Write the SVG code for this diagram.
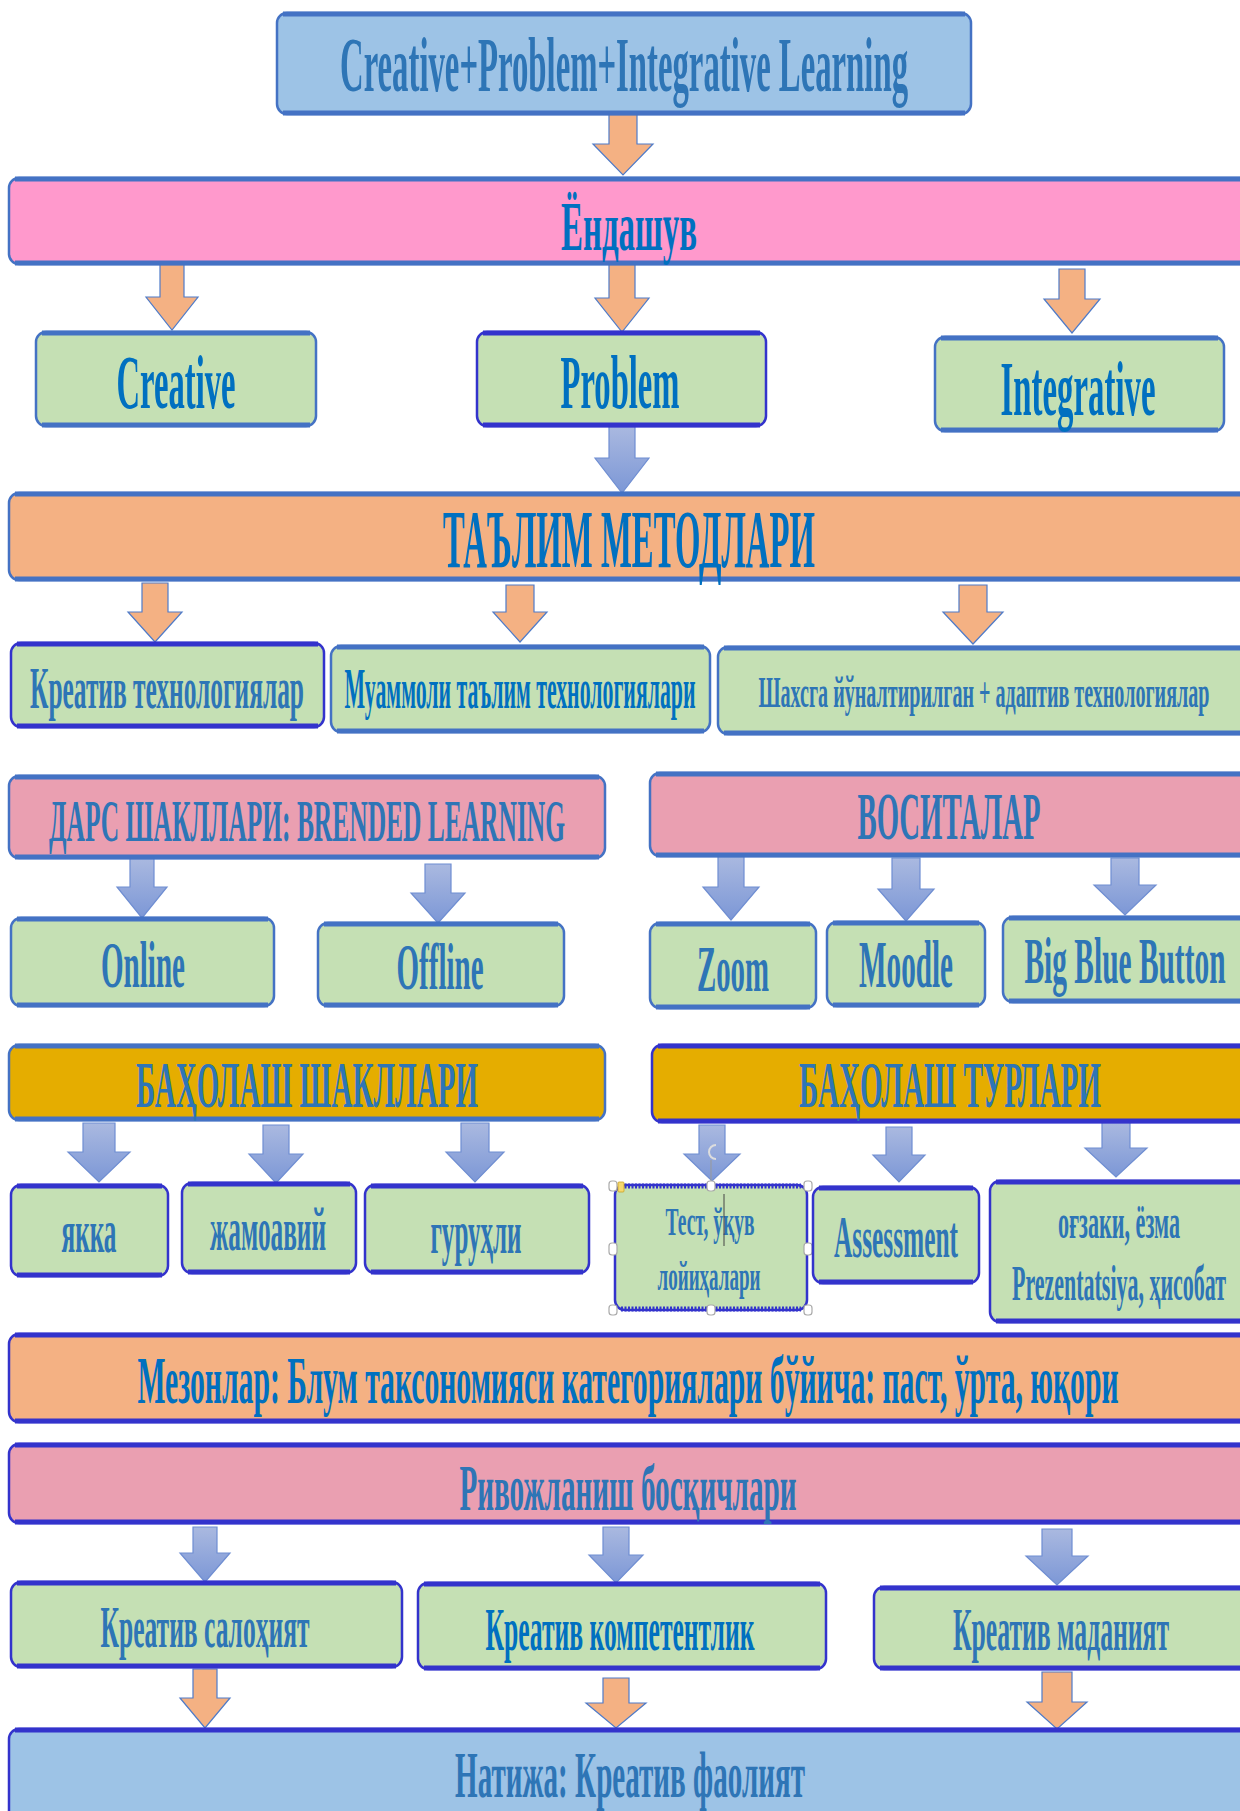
<svg xmlns="http://www.w3.org/2000/svg" width="1240" height="1811" viewBox="0 0 1240 1811">
<defs>
<linearGradient id="bg" x1="0" y1="0" x2="0" y2="1">
<stop offset="0" stop-color="#AAB9E0"/>
<stop offset="1" stop-color="#7C97D6"/>
</linearGradient>
<style>
.box{stroke-width:2.5}
.b1{stroke:#4472C4}
.b2{stroke:#3333CC}
.edge{stroke-width:5;fill:none}
.green{fill:#C5E0B4}
.sky{fill:#9DC3E6}
.pink{fill:#FF99CC}
.rose{fill:#EA9FB1}
.orng{fill:#F4B183}
.gold{fill:#E5AD00}
.t{font-family:"Liberation Serif","DejaVu Serif",serif;font-weight:700;fill:#2E75B6;text-anchor:middle}
.t2{font-family:"Liberation Serif","DejaVu Serif",serif;font-weight:700;fill:#0070C0;text-anchor:middle}
.ao{fill:#F4B183;stroke:#4F7BC8;stroke-width:1.2}
.ab{fill:url(#bg);stroke:#6F8ED2;stroke-width:1.2}
.hd{fill:#fff;stroke:#aaa;stroke-width:1.2}
</style>
</defs>
<rect width="1240" height="1811" fill="#fff"/>

<g id="connectors">
<path class="ao" d="M609 114H637V144H653L623 175L593 144H609Z"/>
<path class="ao" d="M160 264H184V297H198L172 330L146 297H160Z"/>
<path class="ao" d="M609 264H635V298H649L622 332L595 298H609Z"/>
<path class="ao" d="M1059 269H1085V299H1100L1072 333L1044 299H1059Z"/>
<path class="ab" d="M609 426H635V458H649L622 493L595 458H609Z"/>
<path class="ao" d="M142 583H168V612H182L155 642L128 612H142Z"/>
<path class="ao" d="M506 585H534V612H547L520 642L493 612H506Z"/>
<path class="ao" d="M959 585H987V612H1003L973 644L943 612H959Z"/>
<path class="ab" d="M130 858H154V887H167L142 918L117 887H130Z"/>
<path class="ab" d="M425 864H451V893H465L438 923L411 893H425Z"/>
<path class="ab" d="M718 856H744V887H759L731 920L703 887H718Z"/>
<path class="ab" d="M892 858H920V889H934L906 921L878 889H892Z"/>
<path class="ab" d="M1111 858H1139V885H1156L1125 915L1094 885H1111Z"/>
<path class="ab" d="M83 1123H115V1152H130L99 1182L68 1152H83Z"/>
<path class="ab" d="M263 1125H289V1154H303L276 1183L249 1154H263Z"/>
<path class="ab" d="M461 1123H489V1152H504L475 1182L446 1152H461Z"/>
<path class="ab" d="M699 1125H725V1154H740L712 1181L684 1154H699Z"/>
<path class="ab" d="M886 1127H912V1155H925L899 1182L873 1155H886Z"/>
<path class="ab" d="M1102 1122H1130V1148H1147L1116 1177L1085 1148H1102Z"/>
<path class="ab" d="M193 1527H217V1553H230L205 1582L180 1553H193Z"/>
<path class="ab" d="M603 1527H629V1555H643L616 1583L589 1555H603Z"/>
<path class="ab" d="M1042 1529H1072V1556H1088L1057 1585L1026 1556H1042Z"/>
<path class="ao" d="M193 1669H217V1698H230L205 1728L180 1698H193Z"/>
<path class="ao" d="M603 1678H629V1703H646L616 1728L586 1703H603Z"/>
<path class="ao" d="M1042 1672H1072V1702H1087L1057 1729L1027 1702H1042Z"/>
</g>

<g id="n-top">
<rect class="box b1 sky" x="277" y="13" width="694" height="101" rx="10"/>
<path class="edge b1" d="M283 14H965M283 113H965"/>
<text class="t" x="624" y="91" font-size="78" textLength="568" lengthAdjust="spacingAndGlyphs">Creative+Problem+Integrative Learning</text>
</g>

<g id="n-yondashuv">
<rect class="box b1 pink" x="9" y="178" width="1245" height="86" rx="10"/>
<path class="edge b1" d="M15 179H1254M15 263H1254"/>
<text class="t2" x="629" y="250" font-size="70" textLength="136" lengthAdjust="spacingAndGlyphs">Ёндашув</text>
</g>

<g id="n-creative">
<rect class="box b1 green" x="36" y="332" width="280" height="94" rx="10"/>
<path class="edge b1" d="M42 333H310M42 425H310"/>
<text class="t2" x="176" y="408" font-size="77" textLength="119" lengthAdjust="spacingAndGlyphs">Creative</text>
</g>

<g id="n-problem">
<rect class="box b2 green" x="477" y="332" width="289" height="94" rx="10"/>
<path class="edge b2" d="M483 333H760M483 425H760"/>
<text class="t2" x="620" y="408" font-size="77" textLength="119" lengthAdjust="spacingAndGlyphs">Problem</text>
</g>

<g id="n-integrative">
<rect class="box b1 green" x="935" y="337" width="289" height="94" rx="10"/>
<path class="edge b1" d="M941 338H1218M941 430H1218"/>
<text class="t2" x="1078" y="415" font-size="78" textLength="155" lengthAdjust="spacingAndGlyphs">Integrative</text>
</g>

<g id="n-talim">
<rect class="box b1 orng" x="9" y="493" width="1245" height="87" rx="10"/>
<path class="edge b1" d="M15 494H1254M15 579H1254"/>
<text class="t2" x="629" y="567" font-size="82" textLength="372" lengthAdjust="spacingAndGlyphs">ТАЪЛИМ МЕТОДЛАРИ</text>
</g>

<g id="n-kreativ-tech">
<rect class="box b2 green" x="11" y="643" width="313" height="84" rx="10"/>
<path class="edge b2" d="M17 644H318M17 726H318"/>
<text class="t" x="167" y="708" font-size="59" textLength="274" lengthAdjust="spacingAndGlyphs">Креатив технологиялар</text>
</g>

<g id="n-muammoli">
<rect class="box b1 green" x="331" y="646" width="379" height="86" rx="10"/>
<path class="edge b1" d="M337 647H704M337 731H704"/>
<text class="t2" x="520" y="708" font-size="56" textLength="351" lengthAdjust="spacingAndGlyphs">Муаммоли таълим технологиялари</text>
</g>

<g id="n-shaxsga">
<rect class="box b1 green" x="718" y="647" width="540" height="87" rx="10"/>
<path class="edge b1" d="M724 648H1258M724 733H1258"/>
<text class="t" x="984" y="707" font-size="45" textLength="451" lengthAdjust="spacingAndGlyphs">Шахсга йўналтирилган + адаптив технологиялар</text>
</g>

<g id="n-dars">
<rect class="box b1 rose" x="9" y="776" width="596" height="82" rx="10"/>
<path class="edge b1" d="M15 777H599M15 857H599"/>
<text class="t" x="307" y="841" font-size="59" textLength="516" lengthAdjust="spacingAndGlyphs">ДАРС ШАКЛЛАРИ: BRENDED LEARNING</text>
</g>

<g id="n-vositalar">
<rect class="box b1 rose" x="650" y="773" width="604" height="83" rx="10"/>
<path class="edge b1" d="M656 774H1254M656 855H1254"/>
<text class="t" x="949" y="839" font-size="67" textLength="183" lengthAdjust="spacingAndGlyphs">ВОСИТАЛАР</text>
</g>

<g id="n-online">
<rect class="box b1 green" x="11" y="918" width="263" height="88" rx="10"/>
<path class="edge b1" d="M17 919H268M17 1005H268"/>
<text class="t" x="143" y="987" font-size="66" textLength="84" lengthAdjust="spacingAndGlyphs">Online</text>
</g>

<g id="n-offline">
<rect class="box b1 green" x="318" y="923" width="246" height="83" rx="10"/>
<path class="edge b1" d="M324 924H558M324 1005H558"/>
<text class="t" x="440" y="989" font-size="66" textLength="87" lengthAdjust="spacingAndGlyphs">Offline</text>
</g>

<g id="n-zoom">
<rect class="box b1 green" x="650" y="923" width="166" height="85" rx="10"/>
<path class="edge b1" d="M656 924H810M656 1007H810"/>
<text class="t" x="733" y="991" font-size="66" textLength="72" lengthAdjust="spacingAndGlyphs">Zoom</text>
</g>

<g id="n-moodle">
<rect class="box b1 green" x="827" y="922" width="158" height="84" rx="10"/>
<path class="edge b1" d="M833 923H979M833 1005H979"/>
<text class="t" x="906" y="987" font-size="68" textLength="94" lengthAdjust="spacingAndGlyphs">Moodle</text>
</g>

<g id="n-bbb">
<rect class="box b1 green" x="1003" y="917" width="252" height="85" rx="10"/>
<path class="edge b1" d="M1009 918H1255M1009 1001H1255"/>
<text class="t" x="1125" y="983" font-size="66" textLength="201" lengthAdjust="spacingAndGlyphs">Big Blue Button</text>
</g>

<g id="n-baholash-shakllari">
<rect class="box b1 gold" x="9" y="1045" width="596" height="75" rx="10"/>
<path class="edge b1" d="M15 1046H599M15 1119H599"/>
<text class="t" x="307" y="1107" font-size="66" textLength="342" lengthAdjust="spacingAndGlyphs">БАҲОЛАШ ШАКЛЛАРИ</text>
</g>

<g id="n-baholash-turlari">
<rect class="box b2 gold" x="652" y="1045" width="604" height="77" rx="10"/>
<path class="edge b2" d="M658 1046H1256M658 1121H1256"/>
<text class="t" x="950" y="1107" font-size="66" textLength="302" lengthAdjust="spacingAndGlyphs">БАҲОЛАШ ТУРЛАРИ</text>
</g>

<g id="n-yakka">
<rect class="box b2 green" x="11" y="1185" width="157" height="91" rx="10"/>
<path class="edge b2" d="M17 1186H162M17 1275H162"/>
<text class="t" x="89" y="1252" font-size="62" textLength="55" lengthAdjust="spacingAndGlyphs">якка</text>
</g>

<g id="n-jamoaviy">
<rect class="box b2 green" x="182" y="1183" width="174" height="90" rx="10"/>
<path class="edge b2" d="M188 1184H350M188 1272H350"/>
<text class="t" x="268" y="1250" font-size="62" textLength="116" lengthAdjust="spacingAndGlyphs">жамоавий</text>
</g>

<g id="n-guruhli">
<rect class="box b2 green" x="365" y="1185" width="224" height="88" rx="10"/>
<path class="edge b2" d="M371 1186H583M371 1272H583"/>
<text class="t" x="476" y="1253" font-size="62" textLength="91" lengthAdjust="spacingAndGlyphs">гуруҳли</text>
</g>

<g id="n-test">
<rect class="box b2 green" x="615" y="1185" width="192" height="125" rx="10"/>
<path class="edge b2" d="M621 1186H801M621 1309H801" stroke-dasharray="2 1.5"/>
<text class="t" x="710" y="1235" font-size="40" textLength="89" lengthAdjust="spacingAndGlyphs">Тест, ўқув</text>
<text class="t" x="709" y="1290" font-size="42" textLength="103" lengthAdjust="spacingAndGlyphs">лойиҳалари</text>
<line x1="724" y1="1194" x2="724" y2="1246" stroke="#444" stroke-width="1"/>
<line x1="711" y1="1160" x2="711" y2="1186" stroke="#999" stroke-width="1"/>
<path d="M716 1145A7 7 0 1 0 716 1159" fill="none" stroke="#ddd" stroke-width="2"/>
<rect class="hd" x="609" y="1181" width="8" height="10" rx="3"/>
<rect class="hd" x="707" y="1181" width="8" height="10" rx="3"/>
<rect class="hd" x="804" y="1181" width="8" height="10" rx="3"/>
<rect class="hd" x="609" y="1243" width="8" height="12" rx="3"/>
<rect class="hd" x="804" y="1243" width="8" height="12" rx="3"/>
<rect class="hd" x="609" y="1305" width="8" height="10" rx="3"/>
<rect class="hd" x="707" y="1305" width="8" height="10" rx="3"/>
<rect class="hd" x="804" y="1305" width="8" height="10" rx="3"/>
<rect x="618" y="1182" width="6" height="10" rx="1" fill="#F5D76E" stroke="#C9A227" stroke-width="0.8"/>
</g>

<g id="n-assessment">
<rect class="box b2 green" x="813" y="1187" width="166" height="96" rx="10"/>
<path class="edge b2" d="M819 1188H973M819 1282H973"/>
<text class="t" x="896" y="1257" font-size="59" textLength="124" lengthAdjust="spacingAndGlyphs">Assessment</text>
</g>

<g id="n-oral">
<rect class="box b2 green" x="990" y="1181" width="266" height="141" rx="10"/>
<path class="edge b2" d="M996 1182H1256M996 1321H1256"/>
<text class="t" x="1119" y="1238" font-size="48" textLength="122" lengthAdjust="spacingAndGlyphs">оғзаки, ёзма</text>
<text class="t" x="1119" y="1300" font-size="51" textLength="214" lengthAdjust="spacingAndGlyphs">Prezentatsiya, ҳисобат</text>
</g>

<g id="n-mezonlar">
<rect class="box b2 orng" x="9" y="1334" width="1245" height="88" rx="10"/>
<path class="edge b2" d="M15 1335H1254M15 1421H1254"/>
<text class="t2" x="628" y="1403" font-size="68" textLength="981" lengthAdjust="spacingAndGlyphs">Мезонлар: Блум таксономияси категориялари бўйича: паст, ўрта, юқори</text>
</g>

<g id="n-rivojlanish">
<rect class="box b2 rose" x="9" y="1444" width="1245" height="79" rx="10"/>
<path class="edge b2" d="M15 1445H1254M15 1522H1254"/>
<text class="t" x="628" y="1510" font-size="65" textLength="337" lengthAdjust="spacingAndGlyphs">Ривожланиш босқичлари</text>
</g>

<g id="n-salohiyat">
<rect class="box b2 green" x="11" y="1582" width="391" height="85" rx="10"/>
<path class="edge b2" d="M17 1583H396M17 1666H396"/>
<text class="t" x="205" y="1647" font-size="60" textLength="209" lengthAdjust="spacingAndGlyphs">Креатив салоҳият</text>
</g>

<g id="n-kompetentlik">
<rect class="box b2 green" x="418" y="1583" width="408" height="86" rx="10"/>
<path class="edge b2" d="M424 1584H820M424 1668H820"/>
<text class="t2" x="620" y="1650" font-size="62" textLength="269" lengthAdjust="spacingAndGlyphs">Креатив компетентлик</text>
</g>

<g id="n-madaniyat">
<rect class="box b2 green" x="874" y="1587" width="382" height="82" rx="10"/>
<path class="edge b2" d="M880 1588H1256M880 1668H1256"/>
<text class="t" x="1061" y="1650" font-size="62" textLength="216" lengthAdjust="spacingAndGlyphs">Креатив маданият</text>
</g>

<g id="n-natija">
<rect class="box b2 sky" x="9" y="1729" width="1245" height="100" rx="10"/>
<path class="edge b2" d="M15 1730H1254"/>
<text class="t" x="630" y="1797" font-size="66" textLength="350" lengthAdjust="spacingAndGlyphs">Натижа: Креатив фаолият</text>
</g>
</svg>
